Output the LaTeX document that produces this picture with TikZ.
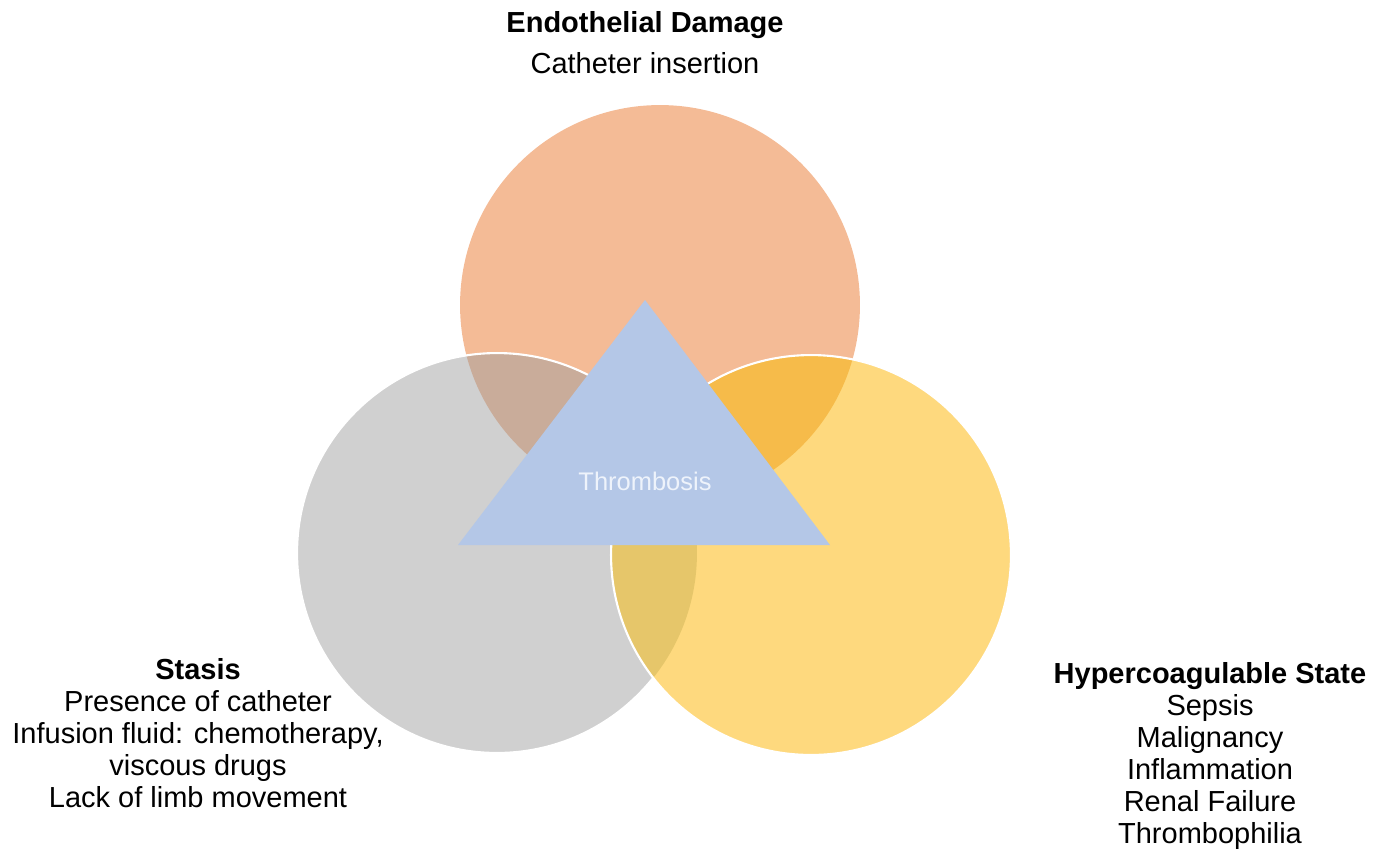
\documentclass[tikz,border=0pt]{standalone}
\usepackage{fontspec}
\setmainfont{Liberation Sans}
\usetikzlibrary{positioning}

\definecolor{dmgfill}{HTML}{F4BB96}
\definecolor{stasfill}{HTML}{D0D0D0}
\definecolor{hyperfill}{HTML}{FED97E}
\definecolor{dmgstas}{HTML}{C9AC9A}
\definecolor{dmghyper}{HTML}{F6BB4A}
\definecolor{stashyper}{HTML}{E6C66A}
\definecolor{thrombfill}{HTML}{B4C7E7}
\definecolor{thrombtext}{HTML}{EEF3FB}

\tikzset{
    ring/.style={shape=circle,minimum size=8cm,inner sep=0pt},
    label text/.style={align=center,font=\fontsize{16.5}{18.2}\selectfont}
}

\begin{document}
\begin{tikzpicture}[x=0.02cm,y=-0.02cm]
    \useasboundingbox (0,0) rectangle (1387,850);
    \node[ring] (dmg) at (660,305) {};
    \node[ring] (stas) at (497,553) {};
    \node[ring] (hyper) at (811,555) {};
    % circles and overlaps
    \fill[dmgfill] (dmg.center) circle[radius=4cm];
    \fill[stasfill] (stas.center) circle[radius=4cm];
    \begin{scope}
        \clip (stas.center) circle[radius=4cm];
        \fill[dmgstas] (dmg.center) circle[radius=4cm];
    \end{scope}
    \draw[white,line width=1.2pt] (stas.center) circle[radius=4cm];
    \fill[hyperfill] (hyper.center) circle[radius=4cm];
    \begin{scope}
        \clip (hyper.center) circle[radius=4cm];
        \fill[dmghyper] (dmg.center) circle[radius=4cm];
        \fill[stashyper] (stas.center) circle[radius=4cm];
    \end{scope}
    \draw[white,line width=1.2pt] (hyper.center) circle[radius=4cm];
    % triangle
    \coordinate (apex) at (645,300);
    \coordinate (baseL) at (458,545);
    \coordinate (baseR) at (830,545);
    \fill[thrombfill] (apex) -- (baseL) -- (baseR) -- cycle;
    \node[text=thrombtext,font=\fontsize{14.5}{16}\selectfont] (thromb) at (645,481) {Thrombosis};
    % labels
    \node[label text] (dmglabel) at (645,43) {{\bfseries Endothelial Damage}\\[5pt]Catheter insertion};
    \node[label text] (staslabel) at (198,733) {{\bfseries Stasis}\\Presence of catheter\\Infusion fluid: chemotherapy,\\viscous drugs\\Lack of limb movement};
    \node[label text] (hyperlabel) at (1210,756) {{\bfseries Hypercoagulable State}\\Sepsis\\Malignancy\\Inflammation\\Renal Failure\\Thrombophilia};
\end{tikzpicture}
\end{document}
